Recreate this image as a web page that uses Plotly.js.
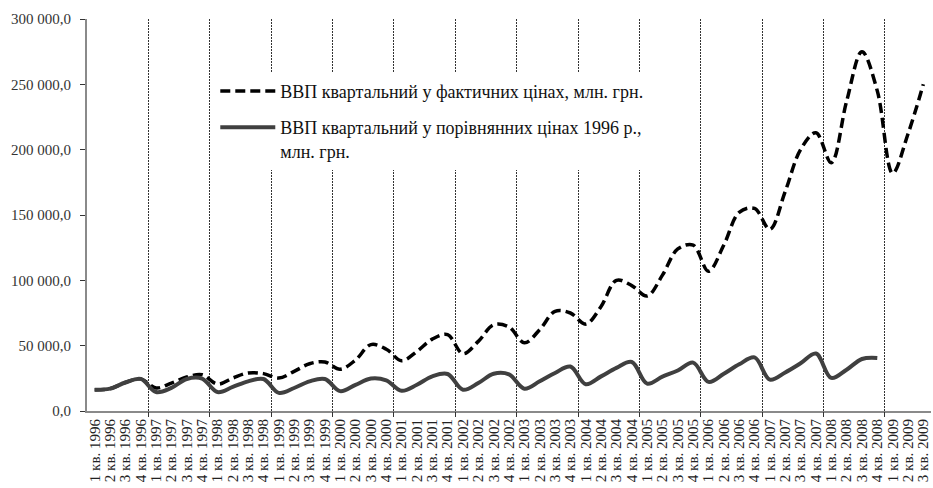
<!DOCTYPE html>
<html>
<head>
<meta charset="utf-8">
<script src="https://cdn.plot.ly/plotly-3.0.1.min.js"></script>
<style>html,body{margin:0;padding:0;background:#fff;}#chart{width:933px;height:488px;}</style>
</head>
<body>
<div id="chart"></div>
<script>
// Categories: quarters 1996 .. 3 кв. 2009
const years = [1996,1997,1998,1999,2000,2001,2002,2003,2004,2005,2006,2007,2008,2009];
const quarterLabels = ["1 кв.","2 кв.","3 кв.","4 кв."];
const categories = [];
years.forEach(function(y){ quarterLabels.forEach(function(q, qi){ if (y < 2009 || qi < 3) categories.push(q + " " + y); }); });

// ВВП квартальний у фактичних цінах, млн. грн.
const gdpNominal = [
  16300,17100,21800,24600,
  17600,21400,26000,27800,
  20600,25200,29100,28600,
  25200,30300,36200,37500,
  32000,39000,50800,47300,
  38500,45600,55000,58400,
  43800,53300,66000,64300,
  52200,62200,76300,75000,
  66500,80000,100000,96000,
  88000,104000,124000,127000,
  107000,127000,152000,155000,
  139000,168000,200000,213000,
  190000,237000,275000,245000,
  182000,212000,250000
];
// ВВП квартальний у порівнянних цінах 1996 р., млн. грн.
const gdpReal = [
  16300,17100,21800,24600,
  14500,17700,24500,24800,
  14500,18400,22700,24500,
  13900,17600,22700,24500,
  15200,20000,24800,23400,
  15500,20100,26500,28300,
  16300,21400,28500,28000,
  17100,22700,29100,34000,
  20500,26500,33000,37500,
  21000,26300,31000,37000,
  22300,28500,35700,41000,
  24000,29500,36500,44000,
  25300,31600,39800,40600
];
const seriesNames = [
  "ВВП квартальний у фактичних цінах, млн. грн.",
  "ВВП квартальний у порівнянних цінах 1996 р.,<br>млн. грн."
];

const serif = "'Liberation Serif', 'Times New Roman', serif";
const yearBoundaries = [];
for (let k = 4; k < categories.length; k += 4) yearBoundaries.push(k - 0.5);

const traces = [
  {
    x: categories.slice(0, gdpNominal.length), y: gdpNominal, name: seriesNames[0],
    type: "scatter", mode: "lines", legendgroup: "a",
    line: {color: "#000000", width: 3.5, dash: "10px,5px", shape: "spline", smoothing: 1}
  },
  {
    x: categories.slice(0, gdpReal.length), y: gdpReal, name: seriesNames[1],
    type: "scatter", mode: "lines", legendgroup: "b",
    line: {color: "#404040", width: 4, shape: "spline", smoothing: 1}
  },
  {
    // carrier for the year-boundary grid axis (no visible marks)
    x: [yearBoundaries[0]], y: [null], xaxis: "x2", yaxis: "y",
    type: "scatter", mode: "lines", showlegend: false, hoverinfo: "skip"
  }
];

const layout = {
  width: 933, height: 488,
  margin: {l: 87, r: 2, t: 19, b: 77},
  paper_bgcolor: "#ffffff", plot_bgcolor: "#ffffff",
  separators: ", ",
  font: {family: serif, size: 13, color: "#222"},
  showlegend: true,
  legend: {
    x: 0.152, y: 0.863, xanchor: "left", yanchor: "top",
    bgcolor: "#ffffff", borderwidth: 0,
    font: {family: serif, size: 18, color: "#111"},
    tracegroupgap: 10, valign: "top", itemwidth: 55
  },
  xaxis: {
    type: "category", categoryorder: "array", categoryarray: categories,
    range: [-0.5, categories.length - 0.5],
    tickmode: "linear", tick0: 0, dtick: 1,
    showgrid: false, zeroline: false,
    showline: true, linecolor: "#8a8a8a", linewidth: 2,
    ticks: "", tickangle: -90,
    tickfont: {family: serif, size: 15, color: "#222"}
  },
  xaxis2: {
    overlaying: "x", anchor: "y", side: "bottom", type: "linear",
    range: [-0.5, categories.length - 0.5],
    tickmode: "array", tickvals: yearBoundaries,
    showticklabels: false, showline: false, zeroline: false,
    showgrid: true, gridcolor: "#333", gridwidth: 1, griddash: "2px,1px",
    ticks: "outside", ticklen: 5, tickcolor: "#333", tickwidth: 1
  },
  yaxis: {
    range: [0, 300000], tickmode: "linear", tick0: 0, dtick: 50000,
    tickformat: ",.1f",
    showgrid: false, zeroline: false,
    showline: true, linecolor: "#8a8a8a", linewidth: 2,
    ticks: "outside", ticklen: 5, tickcolor: "#333", tickwidth: 1,
    ticklabelstandoff: 6,
    tickfont: {family: serif, size: 15, color: "#333"}
  }
};

Plotly.newPlot("chart", traces, layout, {displayModeBar: false, staticPlot: true});
</script>
</body>
</html>
